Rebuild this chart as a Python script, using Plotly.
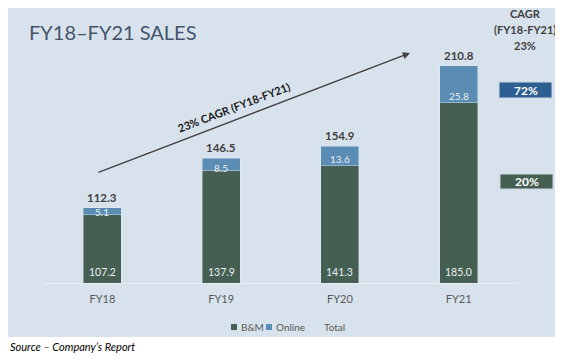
import plotly.graph_objects as go

categories = ["FY18", "FY19", "FY20", "FY21"]
bm_values = [107.2, 137.9, 141.3, 185.0]
online_values = [5.1, 8.5, 13.6, 25.8]
total_values = [112.3, 146.5, 154.9, 210.8]
cagr_total = "23%"
cagr_online = "72%"
cagr_bm = "20%"
arrow_label = "23% CAGR (FY18-FY21)"

# page body has an 8px margin: figure is drawn at (8, 8) in the window
OFF = 8
W, H = 563 - OFF, 361 - OFF
L, R, T, B = 35, 45, 30, 78
PW, PH = W - L - R, H - T - B
Y_MIN, Y_MAX = 60, 230

def px(x):  # window pixel -> paper x
    return (x - OFF - L) / PW

def py(y):  # window pixel -> paper y
    return (H - B - (y - OFF)) / PH

C_BM = "#455f53"
C_ON = "#5b8cb3"
C_BLUE = "#2e5f92"
BG = "#d7e2ec"
FONT = "Lato"
LBL = "#e9eff4"
PX_PER_UNIT = PH / (Y_MAX - Y_MIN)

fig = go.Figure()
fig.add_bar(x=categories, y=bm_values, name="B&M", marker_color=C_BM,
            marker_line=dict(color="rgba(235,242,248,0.5)", width=0.8), hoverinfo="skip")
fig.add_bar(x=categories, y=online_values, name="Online", marker_color=C_ON,
            marker_line=dict(color="rgba(235,242,248,0.5)", width=0.8), hoverinfo="skip")

ann = []
for c, bm, on, tot in zip(categories, bm_values, online_values, total_values):
    seg_px = on * PX_PER_UNIT
    ann.append(dict(text=f"{on:.1f}", x=c, y=bm, xref="x", yref="y", yanchor="middle",
                    yshift=3 if seg_px < 15 else 7,
                    font=dict(size=10, color=LBL, family=FONT)))
    ann.append(dict(text=f"{bm:.1f}", x=c, y=Y_MIN, xref="x", yref="y", yanchor="middle", yshift=11,
                    font=dict(size=10.5, color=LBL, family=FONT)))
    ann.append(dict(text=f"{tot:.1f}", x=c, y=tot, xref="x", yref="y", yanchor="bottom", yshift=2,
                    font=dict(size=11.5, color="#404040", family=FONT, weight="bold")))

shapes = [
    dict(type="rect", xref="paper", yref="paper", x0=px(8), x1=px(560), y0=py(337), y1=py(3),
         fillcolor=BG, line_width=0, layer="below"),
    dict(type="rect", xref="paper", yref="paper", x0=px(499), x1=px(552), y0=py(98), y1=py(82),
         fillcolor=C_BLUE, line=dict(color="#c9d6e2", width=1)),
    dict(type="rect", xref="paper", yref="paper", x0=px(500), x1=px(553), y0=py(189), y1=py(174),
         fillcolor=C_BM, line=dict(color="#c9d6e2", width=1)),
    # legend swatches
    dict(type="rect", xref="paper", yref="paper", x0=px(231), x1=px(237), y0=py(330), y1=py(324),
         fillcolor=C_BM, line_width=0),
    dict(type="rect", xref="paper", yref="paper", x0=px(266), x1=px(272), y0=py(330), y1=py(324),
         fillcolor=C_ON, line_width=0),
]

pann = [
    dict(text="FY18–FY21 SALES", x=px(27), y=py(32), xanchor="left", yanchor="middle",
         font=dict(size=20, color="#44546a", family=FONT)),
    dict(text="CAGR", x=px(525), y=py(13), xanchor="center", yanchor="middle",
         font=dict(size=11, color="#3f3f3f", family=FONT, weight="bold")),
    dict(text="(FY18-FY21)", x=px(525), y=py(29), xanchor="center", yanchor="middle",
         font=dict(size=11, color="#3f3f3f", family=FONT, weight="bold")),
    dict(text=cagr_total, x=px(525), y=py(46), xanchor="center", yanchor="middle",
         font=dict(size=11, color="#3f3f3f", family=FONT, weight="bold")),
    dict(text=cagr_online, x=px(525.5), y=py(90), xanchor="center", yanchor="middle",
         font=dict(size=12, color="white", family=FONT, weight="bold")),
    dict(text=cagr_bm, x=px(526.5), y=py(181.5), xanchor="center", yanchor="middle",
         font=dict(size=12, color="white", family=FONT, weight="bold")),
    dict(text=arrow_label, x=px(233), y=py(107), xanchor="center", yanchor="middle",
         textangle=-21, font=dict(size=11, color="#1a1a1a", family=FONT, weight="bold")),
    dict(text="", x=px(410), y=py(53), ax=-313, ay=120, showarrow=True,
         arrowhead=2, arrowsize=1.1, arrowwidth=1.3, arrowcolor="#404040"),
    dict(text="B&M", x=px(239), y=py(327), xanchor="left", yanchor="middle",
         font=dict(size=10, color="#595959", family=FONT)),
    dict(text="Online", x=px(274), y=py(327), xanchor="left", yanchor="middle",
         font=dict(size=10, color="#595959", family=FONT)),
    dict(text="Total", x=px(322), y=py(327), xanchor="left", yanchor="middle",
         font=dict(size=10, color="#595959", family=FONT)),
    dict(text="<i>Source – Company’s Report</i>", x=px(8), y=py(346), xanchor="left", yanchor="middle",
         font=dict(size=11, color="#000000", family=FONT)),
]
for a in pann:
    a["xref"] = "paper"
    a["yref"] = "paper"
ann += pann
for a in ann:
    a.setdefault("showarrow", False)

fig.update_layout(
    width=W, height=H, margin=dict(l=L, r=R, t=T, b=B),
    barmode="stack", bargap=0.68,
    paper_bgcolor="white", plot_bgcolor="rgba(0,0,0,0)",
    showlegend=False,
    shapes=shapes, annotations=ann,
    font=dict(family=FONT),
    xaxis=dict(range=[-0.5, 3.5], showgrid=False, showline=True, linecolor="#e9eff5", linewidth=1,
               ticks="", tickfont=dict(size=11, color="#595959", family=FONT), ticklabelstandoff=6,
               fixedrange=True),
    yaxis=dict(range=[Y_MIN, Y_MAX], visible=False, showgrid=False, fixedrange=True),
)

fig.write_html("out.html")
